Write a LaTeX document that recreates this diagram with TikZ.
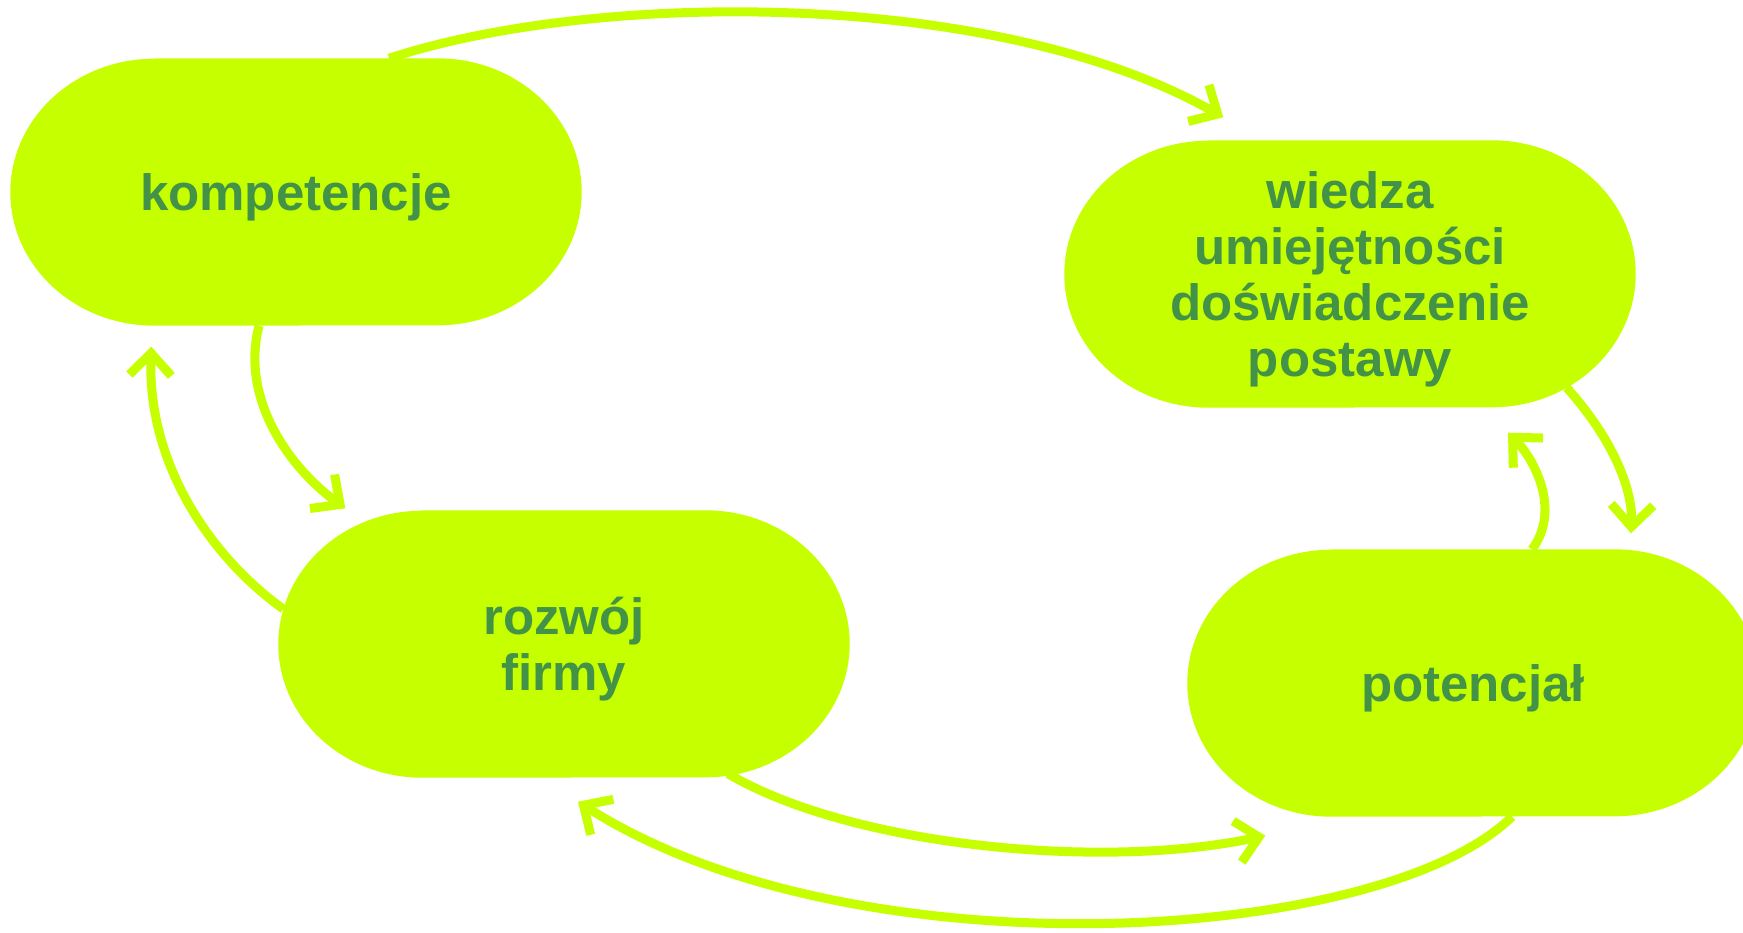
\documentclass[tikz,border=0pt]{standalone}
\usepackage{fontspec}
\setmainfont{Liberation Sans}
\usetikzlibrary{arrows.meta,calc,backgrounds}

\definecolor{lime}{RGB}{198,255,0}
\definecolor{leaf}{RGB}{66,146,72}

\begin{document}
\begin{tikzpicture}[x=1pt,y=-1pt,
    blob/.style={minimum width=571pt, minimum height=267pt, inner sep=0pt, align=center,
        text depth=0pt, text=leaf, font=\fontsize{51}{56}\selectfont\bfseries},
    link/.style={draw=lime, line width=9pt, line cap=butt, line join=miter,
        -{Straight Barb[length=22pt,width=42pt]}}]
    % Fix the frame
    \useasboundingbox (0,0) rectangle (1743,932);

    % Define the blob outline
    \def\blobpath#1{([xshift=144pt]#1.north west) -- ([xshift=-144pt]#1.north east)
        arc[start angle=90, end angle=-90, x radius=144pt, y radius=133.5pt]
        -- ([xshift=144pt]#1.south west)
        arc[start angle=270, end angle=90, x radius=144pt, y radius=133.5pt] -- cycle}

    % Add the blobs
    \node[blob] (komp) at (296,192) {kompetencje};
    \node[blob] (wied) at (1350,274) {wiedza\\umiejętności\\doświadczenie\\postawy};
    \node[blob] (rozw) at (564,644) {rozwój\\firmy};
    \node[blob] (pot) at (1473,683) {potencjał};

    % Fill the blobs
    \begin{scope}[on background layer]
        \fill[lime] \blobpath{komp};
        \fill[lime] \blobpath{wied};
        \fill[lime] \blobpath{rozw};
        \fill[lime] \blobpath{pot};
    \end{scope}

    % Draw the links
    \draw[link] ([xshift=93pt]komp.north) .. controls +(211,-69) and +(-224,-128) .. ($(wied.north west)+(159,-23)$);
    \draw[link] ([xshift=-37pt]komp.south) .. controls +(-19,74) and +(-55,-40) .. ($(rozw.north west)+(67,-2)$);
    \draw[link] ($(rozw.west)+(5,-35)$) .. controls +(-70,-50) and +(-4,120) .. ($(komp.south west)+(141,21)$);
    \draw[link] ($(wied.south east)+(-69,-20)$) .. controls +(45,50) and +(2,-45) .. ($(pot.north)+(158,-16)$);
    \draw[link] ([xshift=59pt]pot.north) .. controls +(30,-40) and +(25,25) .. ($(wied.south)+(158,25)$);
    \draw[link] ($(rozw.south)+(164,-4)$) .. controls +(122,72) and +(-165,35) .. ($(pot.south west)+(78,19)$);
    \draw[link] ([xshift=39pt]pot.south) .. controls +(-132,129) and +(272,174) .. ($(rozw.south)+(14,24)$);
\end{tikzpicture}
\end{document}
